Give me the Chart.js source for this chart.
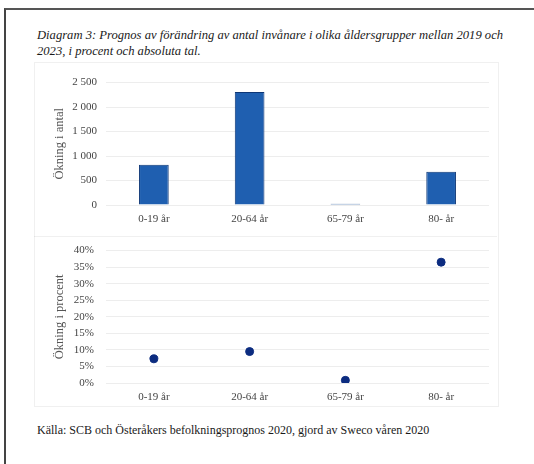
<!DOCTYPE html>
<html>
<head>
<meta charset="utf-8">
<title>Diagram 3</title>
<script src="https://cdn.jsdelivr.net/npm/chart.js@4"></script>
<style>
  html, body { margin: 0; padding: 0; background: #fff; }
  body { width: 534px; height: 464px; position: relative; overflow: hidden; font-family: 'Liberation Serif'; }
  /* ram från det inskannade dokumentet */
  .frame { position: absolute; left: 4px; top: 8px; width: 540px; height: 470px; border-left: 2px solid #444; border-top: 2px solid #555; }
  .box { position: absolute; left: 34px; top: 62px; width: 463px; height: 343px; border: 1px solid rgba(0,0,0,0.06); }
  .sep { position: absolute; left: 34px; top: 236px; width: 463px; border-top: 1px solid rgba(0,0,0,0.06); }
  .title { position: absolute; left: 37px; top: 27px; font-family: 'Liberation Serif'; font-style: italic; font-size: 12.6px; line-height: 16px; color: #1a1a1a; white-space: nowrap; }
  .source { position: absolute; left: 37px; top: 423px; font-family: 'Liberation Serif'; font-size: 12px; color: #1a1a1a; white-space: nowrap; }
  .c { position: absolute; }
</style>
</head>
<body>
<div class="frame"></div>
<div class="box"></div>
<div class="sep"></div>
<div class="title">Diagram 3: Prognos av förändring av antal invånare i olika åldersgrupper mellan 2019 och<br>2023, i procent och absoluta tal.</div>
<div class="c" style="left:50px; top:67px; width:450px; height:162px;"><canvas id="antalChart"></canvas></div>
<div class="c" style="left:50px; top:232px; width:450px; height:175px;"><canvas id="procentChart"></canvas></div>
<div class="source">Källa: SCB och Österåkers befolkningsprognos 2020, gjord av Sweco våren 2020</div>

<script>
// åldersgrupper och värden
const categories = ['0-19 år', '20-64 år', '65-79 år', '80- år'];
const okningAntal = [820, 2310, 25, 680];
const okningProcent = [7.3, 9.5, 0.8, 36.5];
const antalTicks = [0, 500, 1000, 1500, 2000, 2500];
const procentTicks = [0, 5, 10, 15, 20, 25, 30, 35, 40];

Chart.defaults.font.family = 'Liberation Serif';
const tickFont = { family: 'Liberation Serif', size: 11 };
const gridColor = 'rgba(0,0,0,0.07)';

// gemensam x-axel för båda diagrammen
function xAxis() {
  return {
    type: 'category',
    grid: { display: false, drawTicks: false },
    border: { display: false },
    ticks: { color: '#444', font: tickFont, padding: 8, maxRotation: 0 },
    afterFit: s => { s.height = 24; }
  };
}

// övre diagrammet: ökning i antal
new Chart(document.getElementById('antalChart'), {
  type: 'bar',
  data: {
    labels: categories,
    datasets: [{
      data: okningAntal,
      backgroundColor: '#1f5fb0',
      borderColor: '#0d3676',
      borderWidth: 1,
      barPercentage: 0.31,
      categoryPercentage: 1
    }]
  },
  options: {
    responsive: true,
    maintainAspectRatio: false,
    animation: false,
    layout: { padding: { top: 9, right: 11, left: 0, bottom: 0 } },
    plugins: { legend: { display: false }, tooltip: { enabled: false } },
    scales: {
      x: xAxis(),
      y: {
        min: 0, max: 2500,
        afterBuildTicks: s => { s.ticks = antalTicks.map(v => ({ value: v })); },
        grid: { color: gridColor, drawTicks: false },
        border: { display: false },
        ticks: {
          color: '#444', font: tickFont, padding: 9, autoSkip: false,
          callback: v => String(v).replace(/\B(?=(\d{3})+(?!\d))/g, ' ')
        },
        title: { display: true, text: 'Ökning i antal', color: '#555', font: { family: 'Liberation Serif', size: 12.5 }, padding: { top: 2, bottom: 0 } },
        afterFit: s => { s.width = 56; }
      }
    }
  }
});

// nedre diagrammet: ökning i procent
new Chart(document.getElementById('procentChart'), {
  type: 'line',
  data: {
    labels: categories,
    datasets: [{
      data: okningProcent,
      showLine: false,
      pointRadius: 4,
      pointBackgroundColor: '#0c2c80',
      pointBorderColor: '#0c2c80'
    }]
  },
  options: {
    responsive: true,
    maintainAspectRatio: false,
    animation: false,
    layout: { padding: { top: 6, right: 11, left: 0, bottom: 0 } },
    plugins: { legend: { display: false }, tooltip: { enabled: false } },
    scales: {
      x: Object.assign(xAxis(), { offset: true }),
      y: {
        min: 0, max: 40,
        afterBuildTicks: s => { s.ticks = procentTicks.map(v => ({ value: v })); },
        grid: { color: gridColor, drawTicks: false },
        border: { display: false },
        ticks: { color: '#444', font: tickFont, padding: 12, autoSkip: false, callback: v => v + '%' },
        title: { display: true, text: 'Ökning i procent', color: '#555', font: { family: 'Liberation Serif', size: 12.5 }, padding: { top: 2, bottom: 0 } },
        afterFit: s => { s.width = 56; }
      }
    }
  }
});
</script>
</body>
</html>
